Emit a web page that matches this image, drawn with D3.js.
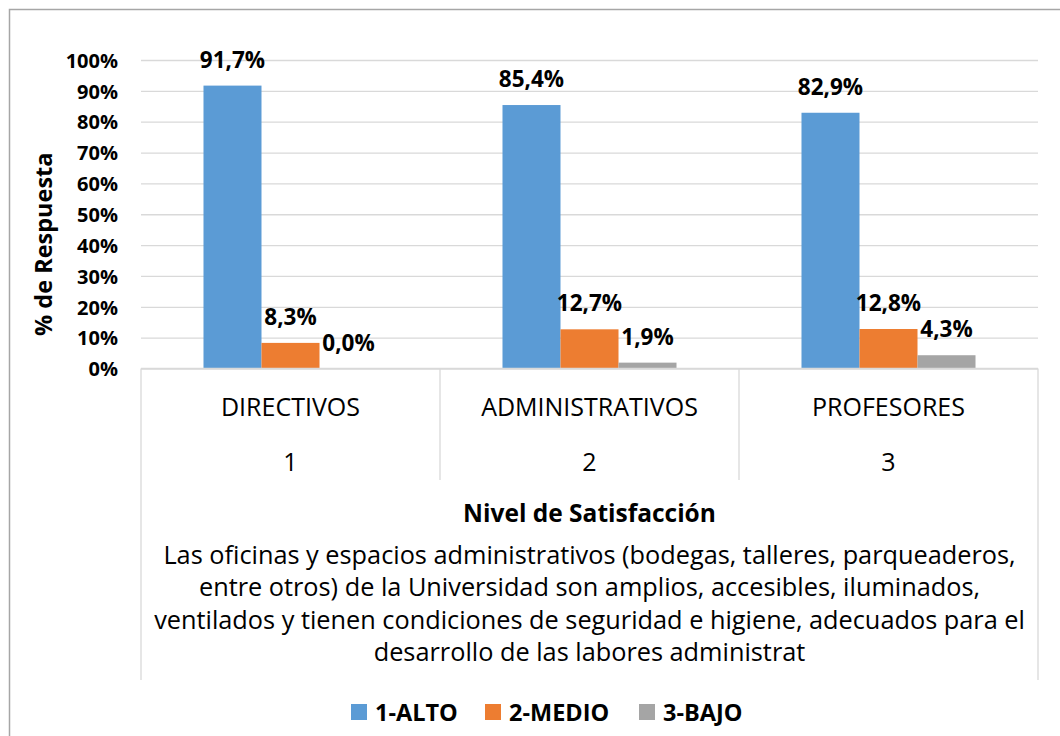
<!DOCTYPE html>
<html>
<head>
<meta charset="utf-8">
<script src="https://cdn.jsdelivr.net/npm/d3@7"></script>
<style>
  html, body { margin: 0; padding: 0; background: #fff; }
  svg { display: block; font-family: "Open Sans", "Noto Sans", sans-serif; }
</style>
</head>
<body>
<svg id="chart" width="1060" height="736"></svg>
<script>
// Satisfaction level by respondent group
const categories = ["DIRECTIVOS", "ADMINISTRATIVOS", "PROFESORES"];
const categoryCodes = ["1", "2", "3"];
const seriesNames = ["1-ALTO", "2-MEDIO", "3-BAJO"];
const alto  = [0.917, 0.854, 0.829];
const medio = [0.083, 0.127, 0.128];
const bajo  = [0.000, 0.019, 0.043];
const yTicks = [0, 0.1, 0.2, 0.3, 0.4, 0.5, 0.6, 0.7, 0.8, 0.9, 1.0];
const axisTitleX = "Nivel de Satisfacción";
const questionLines = [
  "Las oficinas y espacios administrativos (bodegas, talleres, parqueaderos,",
  "entre otros) de la Universidad son amplios, accesibles, iluminados,",
  "ventilados y tienen condiciones de seguridad e higiene, adecuados para el",
  "desarrollo de las labores administrat"
];
const axisTitleY = "% de Respuesta";
const colors = ["#5B9BD5", "#ED7D31", "#A5A5A5"];

const seriesValues = [alto, medio, bajo];
const rows = categories.map((c, i) => ({
  category: c,
  code: categoryCodes[i],
  values: seriesNames.map((s, j) => ({ series: s, value: seriesValues[j][i], color: colors[j] }))
}));

const svg = d3.select("#chart");
const gridColor = "#d9d9d9";

// chart frame
svg.append("rect")
  .attr("x", 9.5).attr("y", 9.5)
  .attr("width", 1060).attr("height", 740)
  .attr("fill", "none").attr("stroke", "#a6a6a6").attr("stroke-width", 1.5);

const plot = { left: 141, right: 1038, top: 60, bottom: 368.5 };

const x0 = d3.scaleBand().domain(categories).range([plot.left, plot.right]).padding(0);
const groupW = x0.bandwidth() * 0.582;
const x1 = d3.scaleBand().domain(seriesNames)
  .range([(x0.bandwidth() - groupW) / 2, (x0.bandwidth() + groupW) / 2]).padding(0);
const y = d3.scaleLinear().domain([0, 1]).range([plot.bottom, plot.top]);

const locale = d3.formatLocale({ decimal: ",", thousands: ".", grouping: [3], currency: ["", ""] });
const pct0 = locale.format(".0%");
const pct1 = locale.format(".1%");

// horizontal gridlines
const grid = svg.append("g")
  .attr("transform", `translate(${plot.left},0)`)
  .call(d3.axisLeft(y).tickValues(yTicks).tickSize(-(plot.right - plot.left)).tickFormat(""));
grid.select(".domain").remove();
grid.selectAll("line").attr("stroke", gridColor).attr("stroke-width", 1.3);

// y-axis tick labels
const yAxis = svg.append("g")
  .attr("transform", `translate(118,0)`)
  .call(d3.axisLeft(y).tickValues(yTicks).tickSize(0).tickPadding(0).tickFormat(pct0));
yAxis.select(".domain").remove();
yAxis.selectAll("text")
  .attr("font-family", "'Open Sans', sans-serif")
  .attr("font-size", 20).attr("font-weight", "bold").attr("fill", "#000")
  .attr("dy", "0.36em");

// y-axis title
svg.append("text")
  .attr("transform", `translate(52,${(plot.top + plot.bottom) / 2 + 30}) rotate(-90)`)
  .attr("text-anchor", "middle")
  .attr("font-size", 23.5).attr("font-weight", "bold").attr("fill", "#000")
  .text(axisTitleY);

// bars
const groups = svg.append("g").selectAll("g")
  .data(rows).join("g")
  .attr("transform", d => `translate(${x0(d.category)},0)`);

groups.selectAll("rect")
  .data(d => d.values).join("rect")
  .attr("x", d => x1(d.series))
  .attr("y", d => y(d.value))
  .attr("width", x1.bandwidth())
  .attr("height", d => y(0) - y(d.value))
  .attr("fill", d => d.color);

groups.selectAll("text.val")
  .data(d => d.values).join("text")
  .attr("class", "val")
  .attr("x", d => x1(d.series) + x1.bandwidth() / 2)
  .attr("y", d => y(d.value) - 18)
  .attr("text-anchor", "middle")
  .attr("font-size", 22.5).attr("font-weight", "bold").attr("fill", "#000")
  .text(d => pct1(d.value));

// category axis box
const axisG = svg.append("g").attr("stroke", gridColor).attr("stroke-width", 1.3);
axisG.append("line").attr("x1", plot.left).attr("x2", plot.right).attr("y1", plot.bottom).attr("y2", plot.bottom);
axisG.append("line").attr("x1", plot.left).attr("x2", plot.left).attr("y1", plot.bottom).attr("y2", 680);
axisG.append("line").attr("x1", plot.right).attr("x2", plot.right).attr("y1", plot.bottom).attr("y2", 680);
axisG.selectAll("line.div")
  .data(categories.slice(1)).join("line")
  .attr("class", "div")
  .attr("x1", d => x0(d)).attr("x2", d => x0(d))
  .attr("y1", plot.bottom).attr("y2", 480);

// category labels and codes
svg.append("g").selectAll("text")
  .data(rows).join("text")
  .attr("x", d => x0(d.category) + x0.bandwidth() / 2)
  .attr("y", 416)
  .attr("text-anchor", "middle")
  .attr("font-size", 25).attr("fill", "#000")
  .text(d => d.category);

svg.append("g").selectAll("text")
  .data(rows).join("text")
  .attr("x", d => x0(d.category) + x0.bandwidth() / 2)
  .attr("y", 471)
  .attr("text-anchor", "middle")
  .attr("font-size", 25).attr("fill", "#000")
  .text(d => d.code);

const midX = (plot.left + plot.right) / 2;
svg.append("text")
  .attr("x", midX).attr("y", 522)
  .attr("text-anchor", "middle")
  .attr("font-size", 24.5).attr("font-weight", "bold").attr("fill", "#000")
  .text(axisTitleX);

svg.append("g").selectAll("text")
  .data(questionLines).join("text")
  .attr("x", midX)
  .attr("y", (d, i) => 564 + i * 32.3)
  .attr("text-anchor", "middle")
  .attr("font-size", 25.3).attr("fill", "#000")
  .text(d => d);

// legend
const legendX = [351, 485, 639];
const legend = svg.append("g").selectAll("g")
  .data(seriesNames).join("g")
  .attr("transform", (d, i) => `translate(${legendX[i]},704)`);
legend.append("rect").attr("width", 16).attr("height", 16).attr("fill", (d, i) => colors[i]);
legend.append("text")
  .attr("x", 24).attr("y", 17)
  .attr("font-size", 23.5).attr("font-weight", "bold").attr("fill", "#000")
  .text(d => d);
</script>
</body>
</html>
